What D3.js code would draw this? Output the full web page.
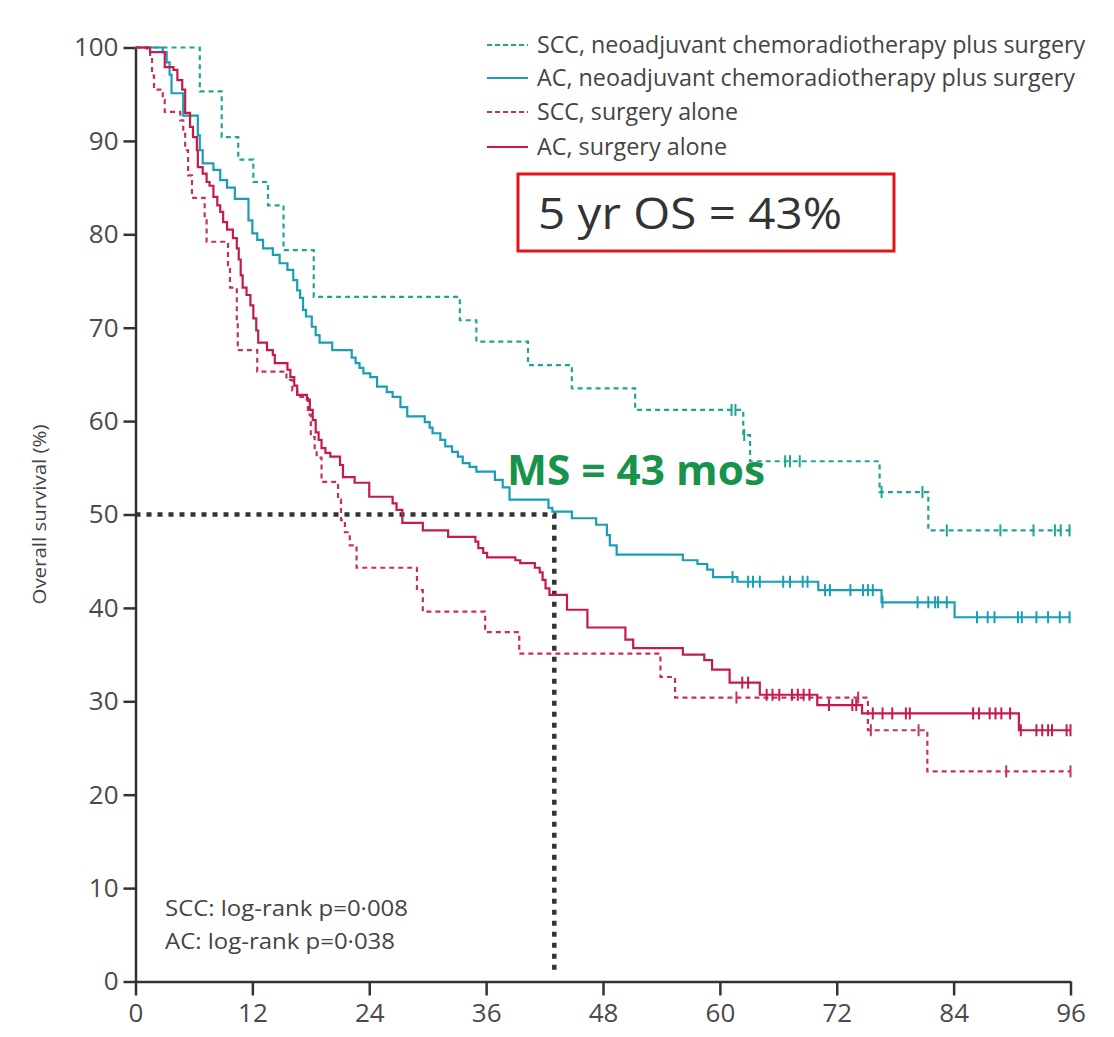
<!DOCTYPE html>
<html>
<head>
<meta charset="utf-8">
<script src="https://cdn.jsdelivr.net/npm/d3@7"></script>
<style>
  body { margin: 0; background: #fff; }
  text { font-family: "Open Sans", "Noto Sans", sans-serif; }
</style>
</head>
<body>
<svg id="chart" width="1114" height="1037"></svg>
<script>
// Axis ticks
const xTicks = [0, 12, 24, 36, 48, 60, 72, 84, 96];
const yTicks = [0, 10, 20, 30, 40, 50, 60, 70, 80, 90, 100];

// Kaplan-Meier steps: [month of event, survival (%) after the event]
const sccNcrtSteps = [
  [6.6, 95.3], [8.85, 90.4], [10.55, 88.0], [12.1, 85.6], [13.6, 83.1], [15.2, 78.3],
  [18.3, 73.3], [33.3, 70.8], [35.0, 68.5], [40.3, 66.0], [44.8, 63.5], [51.3, 61.2],
  [62.4, 58.5], [63.1, 55.7], [76.4, 52.4], [81.4, 48.3]
];
const sccNcrtCensored = [61.2, 61.6, 62.5, 66.7, 67.2, 68.2, 76.6, 80.8, 83.3, 88.8, 92.2, 94.4, 95.0, 95.9];

const acNcrtSteps = [
  [2.8, 99.5], [3.2, 98.4], [3.5, 97.1], [3.7, 95.1], [4.9, 92.7], [6.4, 90.6], [6.6, 89.0],
  [6.9, 87.6], [8.0, 86.9], [8.7, 85.8], [9.4, 85.0], [10.2, 83.8], [11.6, 81.5], [12.0, 80.1],
  [12.5, 79.4], [13.1, 78.5], [14.1, 77.8], [14.8, 76.9], [15.6, 76.2], [16.2, 75.1],
  [16.6, 74.0], [16.9, 73.2], [17.2, 71.9], [17.5, 71.2], [18.1, 70.1], [18.5, 69.2],
  [18.9, 68.4], [20.2, 67.6], [22.2, 66.8], [22.6, 66.2], [23.0, 65.7], [23.4, 65.1],
  [24.1, 64.7], [24.8, 63.7], [25.8, 63.1], [26.4, 62.6], [27.2, 61.5], [27.9, 60.5],
  [29.7, 59.9], [30.2, 59.3], [30.5, 58.7], [31.3, 58.0], [31.8, 57.3], [32.5, 56.7],
  [33.1, 56.2], [33.6, 55.5], [34.3, 55.1], [35.0, 54.6], [36.9, 53.7], [37.7, 52.9],
  [38.4, 51.6], [42.4, 50.7], [42.8, 50.3], [44.8, 49.6], [47.3, 48.9], [48.4, 47.8],
  [48.7, 46.7], [49.4, 45.7], [56.2, 45.1], [57.7, 44.7], [58.7, 44.1], [59.3, 43.3],
  [61.8, 42.8], [70.1, 41.9], [76.6, 40.6], [84.1, 39.0]
];
const acNcrtCensored = [
  61.3, 62.9, 63.4, 64.1, 66.5, 67.2, 68.5, 69.0, 70.8, 71.3, 73.4, 74.7, 75.2, 75.7,
  76.7, 80.3, 81.4, 82.1, 82.4, 83.3, 86.4, 87.5, 88.2, 90.6, 91.0, 92.5, 93.7, 94.9, 95.9
];

const sccSurgSteps = [
  [1.2, 99.7], [1.5, 98.9], [1.7, 97.0], [1.9, 95.5], [2.8, 94.4], [3.0, 93.1], [4.6, 92.2],
  [4.9, 91.2], [5.1, 89.0], [5.4, 86.3], [5.8, 83.9], [7.1, 81.5], [7.3, 79.2], [9.5, 76.7],
  [9.7, 74.3], [10.4, 70.8], [10.5, 67.6], [12.5, 65.3], [15.5, 64.4], [16.1, 63.3],
  [16.6, 62.6], [17.7, 60.7], [18.0, 58.3], [18.4, 56.9], [18.6, 56.1], [19.1, 53.5],
  [20.8, 51.6], [21.1, 49.4], [21.5, 48.1], [22.0, 46.7], [22.7, 44.3], [28.9, 41.9],
  [29.5, 39.6], [35.9, 37.4], [39.4, 35.1], [53.9, 32.6], [55.4, 30.4], [75.2, 26.9],
  [81.3, 22.5]
];
const sccSurgCensored = [61.7, 74.2, 75.5, 80.4, 89.4, 96.0];

const acSurgSteps = [
  [1.5, 99.5], [3.0, 97.9], [3.9, 97.6], [4.3, 96.5], [4.8, 95.5], [5.1, 93.0], [5.6, 91.5],
  [5.9, 90.4], [6.3, 89.0], [6.4, 87.2], [6.9, 86.5], [7.3, 85.6], [7.6, 85.2], [8.0, 84.0],
  [8.4, 83.1], [8.7, 82.4], [9.0, 81.3], [9.4, 80.5], [10.0, 79.6], [10.4, 78.5], [10.6, 77.3],
  [10.8, 75.6], [11.0, 74.3], [11.4, 73.5], [11.8, 72.4], [12.1, 71.0], [12.4, 69.7],
  [12.6, 68.4], [13.5, 67.6], [14.1, 67.1], [14.3, 66.2], [15.6, 65.5], [15.9, 64.7],
  [16.3, 63.8], [16.6, 62.8], [17.6, 62.3], [17.9, 61.2], [18.2, 60.1], [18.5, 58.8],
  [18.8, 58.0], [19.1, 57.1], [19.5, 56.6], [20.0, 56.2], [21.0, 55.3], [21.3, 54.0],
  [22.5, 53.4], [24.0, 51.9], [26.4, 51.2], [26.8, 50.5], [27.4, 49.1], [29.5, 48.3],
  [32.1, 47.6], [34.9, 47.1], [35.2, 46.4], [35.7, 45.9], [36.1, 45.4], [39.0, 45.1],
  [39.5, 44.8], [41.0, 44.3], [41.5, 43.8], [41.8, 43.0], [42.1, 42.1], [42.5, 41.4],
  [44.3, 39.8], [46.4, 37.9], [50.3, 36.6], [51.1, 35.7], [56.2, 35.0], [58.4, 34.4],
  [59.2, 33.4], [61.0, 32.0], [64.1, 30.7], [70.0, 29.6], [74.6, 28.7], [90.7, 26.9]
];
const acSurgCensored = [
  62.3, 62.9, 64.8, 65.4, 66.1, 67.4, 68.0, 68.6, 69.2, 71.2, 73.6, 74.0, 75.7, 76.7, 77.7,
  79.1, 79.5, 86.0, 86.6, 87.7, 88.3, 88.9, 89.8, 90.9, 92.5, 93.1, 93.7, 94.1, 95.6, 96.0
];

const seriesNames = [
  "SCC, neoadjuvant chemoradiotherapy plus surgery",
  "AC, neoadjuvant chemoradiotherapy plus surgery",
  "SCC, surgery alone",
  "AC, surgery alone"
];
const medianSurvivalMonths = 43;
const fiveYearOS = 43;
const pValueLines = ["SCC: log-rank p=0·008", "AC: log-rank p=0·038"];

// ---- drawing ----
const svg = d3.select("#chart");
const x = d3.scaleLinear().domain([0, 96]).range([135.5, 1070.5]);
const y = d3.scaleLinear().domain([0, 100]).range([981.5, 47.5]);

const styles = [
  { steps: sccNcrtSteps, cens: sccNcrtCensored, color: "#1ea594", dash: "5,4" },
  { steps: acNcrtSteps, cens: acNcrtCensored, color: "#199fb3", dash: null },
  { steps: sccSurgSteps, cens: sccSurgCensored, color: "#c8305c", dash: "5,4" },
  { steps: acSurgSteps, cens: acSurgCensored, color: "#c51a4b", dash: null }
];

function survivalAt(steps, t) {
  let s = 100;
  for (const [m, v] of steps) { if (m <= t) s = v; else break; }
  return s;
}

const line = d3.line().x(d => x(d[0])).y(d => y(d[1])).curve(d3.curveStepAfter);

// Axes
const axisColor = "#333";
const yAxis = svg.append("g")
  .attr("transform", `translate(${x(0)},0)`)
  .call(d3.axisLeft(y).tickValues(yTicks).tickSize(12).tickSizeOuter(0).tickPadding(5));
const xAxis = svg.append("g")
  .attr("transform", `translate(0,${y(0)})`)
  .call(d3.axisBottom(x).tickValues(xTicks).tickSize(14).tickSizeOuter(0).tickPadding(8));
[yAxis, xAxis].forEach(g => {
  g.selectAll("path.domain").attr("stroke", axisColor).attr("stroke-width", 2.5);
  g.selectAll(".tick line").attr("stroke", axisColor).attr("stroke-width", 2.5);
  g.selectAll(".tick text").attr("fill", "#4a4a4a").style("font-size", "26px")
    .style("font-family", "'Open Sans', sans-serif");
});
xAxis.selectAll(".tick text").attr("dy", "0.72em");

// Y axis title
svg.append("text")
  .attr("transform", `translate(46,${y(50)}) rotate(-90)`)
  .attr("text-anchor", "middle")
  .attr("fill", "#444")
  .style("font-size", "18px")
  .attr("textLength", 180).attr("lengthAdjust", "spacingAndGlyphs")
  .text("Overall survival (%)");

// Median survival guide
svg.append("path")
  .attr("d", `M${x(0)},${y(50)}H${x(medianSurvivalMonths)}V${y(1.2)}`)
  .attr("fill", "none").attr("stroke", "#333").attr("stroke-width", 4.5)
  .attr("stroke-dasharray", "5,6");

// Survival curves
styles.forEach(s => {
  const pts = [[0, 100], ...s.steps, [96, s.steps[s.steps.length - 1][1]]];
  svg.append("path")
    .attr("d", line(pts))
    .attr("fill", "none")
    .attr("stroke", s.color)
    .attr("stroke-width", 2.2)
    .attr("stroke-dasharray", s.dash);
  svg.append("g").selectAll("line").data(s.cens).join("line")
    .attr("x1", d => x(d)).attr("x2", d => x(d))
    .attr("y1", d => y(survivalAt(s.steps, d)) - 6)
    .attr("y2", d => y(survivalAt(s.steps, d)) + 6)
    .attr("stroke", s.color).attr("stroke-width", 2);
});

// Legend
const legend = svg.append("g");
const legendRowY = [45, 78, 112, 147];
const legendWidths = [548, 538, 201, 190];
styles.forEach((s, i) => {
  legend.append("line")
    .attr("x1", 487).attr("x2", 528)
    .attr("y1", legendRowY[i]).attr("y2", legendRowY[i])
    .attr("stroke", s.color).attr("stroke-width", 2.2)
    .attr("stroke-dasharray", s.dash ? "5,3" : null);
  legend.append("text")
    .attr("x", 537).attr("y", legendRowY[i])
    .attr("dy", "0.35em")
    .attr("fill", "#444")
    .style("font-size", "23px")
    .attr("textLength", legendWidths[i]).attr("lengthAdjust", "spacingAndGlyphs")
    .text(seriesNames[i]);
});

// 5-year OS box
svg.append("rect")
  .attr("x", 518).attr("y", 174).attr("width", 376).attr("height", 77)
  .attr("fill", "none").attr("stroke", "#e3131b").attr("stroke-width", 3);
svg.append("text")
  .attr("x", 538).attr("y", 229)
  .attr("fill", "#333")
  .style("font-size", "44px")
  .attr("textLength", 304).attr("lengthAdjust", "spacingAndGlyphs")
  .text(`5 yr OS = ${fiveYearOS}%`);

// Median survival label
svg.append("text")
  .attr("x", 507).attr("y", 485)
  .attr("fill", "#17934c")
  .style("font-size", "42px").style("font-weight", "bold")
  .attr("textLength", 258).attr("lengthAdjust", "spacingAndGlyphs")
  .text(`MS = ${medianSurvivalMonths} mos`);

// Log-rank annotations
pValueLines.forEach((t, i) => {
  svg.append("text")
    .attr("x", 165).attr("y", 916 + i * 33)
    .attr("fill", "#444")
    .style("font-size", "22px")
    .attr("textLength", i === 0 ? 243 : 230).attr("lengthAdjust", "spacingAndGlyphs")
    .text(t);
});
</script>
</body>
</html>
